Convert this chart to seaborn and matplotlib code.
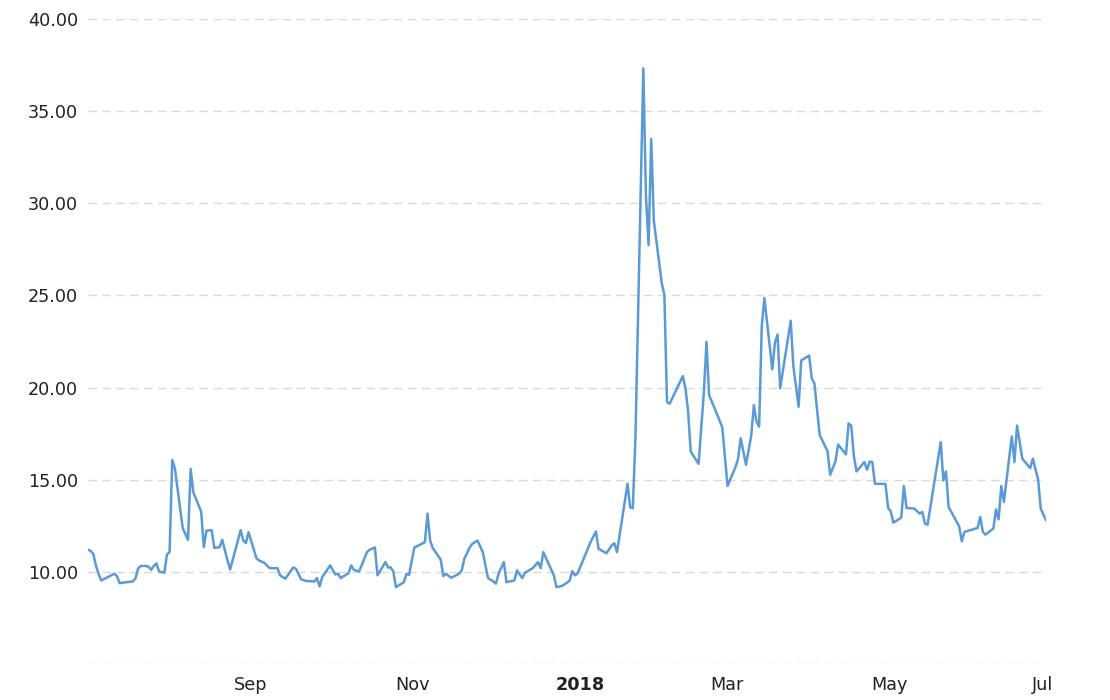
import matplotlib
matplotlib.use('Agg')
import matplotlib.pyplot as plt
import pandas as pd
import seaborn as sns

# VIX closing values (Jul 2017 - Jul 2018)
dates = [
    "2017-07-09", "2017-07-10", "2017-07-11", "2017-07-12", "2017-07-13", "2017-07-14",
    "2017-07-19", "2017-07-20", "2017-07-21", "2017-07-26", "2017-07-27", "2017-07-28",
    "2017-07-29", "2017-07-31",
    "2017-08-01", "2017-08-02", "2017-08-03", "2017-08-04", "2017-08-05", "2017-08-07",
    "2017-08-08", "2017-08-09", "2017-08-10", "2017-08-11", "2017-08-14", "2017-08-16",
    "2017-08-17", "2017-08-18", "2017-08-21", "2017-08-22", "2017-08-23", "2017-08-25",
    "2017-08-26", "2017-08-28", "2017-08-29", "2017-08-31",
    "2017-09-01", "2017-09-05", "2017-09-06", "2017-09-07", "2017-09-08", "2017-09-11",
    "2017-09-12", "2017-09-14", "2017-09-16", "2017-09-19", "2017-09-20", "2017-09-22",
    "2017-09-25", "2017-09-26", "2017-09-28", "2017-09-30",
    "2017-10-03", "2017-10-04", "2017-10-05", "2017-10-06", "2017-10-09", "2017-10-11",
    "2017-10-12", "2017-10-13", "2017-10-16", "2017-10-17", "2017-10-18", "2017-10-20",
    "2017-10-23", "2017-10-24", "2017-10-26", "2017-10-27", "2017-10-30", "2017-10-31",
    "2017-11-01", "2017-11-02", "2017-11-03", "2017-11-06", "2017-11-07", "2017-11-08",
    "2017-11-10", "2017-11-14", "2017-11-15", "2017-11-16", "2017-11-17", "2017-11-20",
    "2017-11-21", "2017-11-22", "2017-11-24", "2017-11-27", "2017-11-28", "2017-11-29",
    "2017-12-01", "2017-12-02", "2017-12-04", "2017-12-06", "2017-12-08", "2017-12-10",
    "2017-12-11", "2017-12-12", "2017-12-14", "2017-12-15", "2017-12-18", "2017-12-19",
    "2017-12-21", "2017-12-22", "2017-12-25", "2017-12-27", "2017-12-28", "2017-12-29",
    "2017-12-31",
    "2018-01-02", "2018-01-03", "2018-01-05", "2018-01-07", "2018-01-08", "2018-01-09",
    "2018-01-10", "2018-01-11", "2018-01-16", "2018-01-18", "2018-01-19", "2018-01-22",
    "2018-01-24", "2018-01-25", "2018-01-26", "2018-01-30", "2018-01-31",
    "2018-02-01", "2018-02-02", "2018-02-05", "2018-02-06", "2018-02-07", "2018-02-08",
    "2018-02-09", "2018-02-12", "2018-02-13", "2018-02-14", "2018-02-15", "2018-02-20",
    "2018-02-21", "2018-02-22", "2018-02-23", "2018-02-26", "2018-02-28",
    "2018-03-01", "2018-03-02", "2018-03-05", "2018-03-07", "2018-03-09", "2018-03-12",
    "2018-03-13", "2018-03-14", "2018-03-16", "2018-03-18", "2018-03-19", "2018-03-20",
    "2018-03-21", "2018-03-22", "2018-03-23", "2018-03-26", "2018-03-27", "2018-03-28",
    "2018-03-29",
    "2018-04-02", "2018-04-03", "2018-04-05", "2018-04-06", "2018-04-09", "2018-04-10",
    "2018-04-11", "2018-04-13", "2018-04-16", "2018-04-17", "2018-04-19", "2018-04-20",
    "2018-04-23", "2018-04-24", "2018-04-25", "2018-04-26", "2018-04-27", "2018-04-30",
    "2018-05-01", "2018-05-02", "2018-05-03", "2018-05-04", "2018-05-08", "2018-05-09",
    "2018-05-10", "2018-05-11", "2018-05-14", "2018-05-15", "2018-05-16", "2018-05-19",
    "2018-05-21", "2018-05-22", "2018-05-23", "2018-05-24", "2018-05-29", "2018-05-30",
    "2018-05-31",
    "2018-06-01", "2018-06-05", "2018-06-06", "2018-06-07", "2018-06-12", "2018-06-13",
    "2018-06-14", "2018-06-15", "2018-06-18", "2018-06-19", "2018-06-20", "2018-06-21",
    "2018-06-22", "2018-06-25", "2018-06-26", "2018-06-27", "2018-06-29",
    "2018-07-02", "2018-07-03", "2018-07-05", "2018-07-06", "2018-07-08",
]

vix = [
    11.20, 11.14, 10.98, 10.35, 9.90, 9.53, 9.90, 9.77, 9.39, 9.48, 9.63, 10.17, 10.32, 10.32,
    10.28, 10.11, 10.32, 10.46, 10.02, 9.95, 10.94, 11.07, 16.07, 15.62, 12.37, 11.74,
    15.58, 14.32, 13.27, 11.34, 12.24, 12.26, 11.30, 11.34, 11.74, 10.62,
    10.13, 12.26, 11.70, 11.56, 12.15, 10.74, 10.62, 10.49, 10.20, 10.20, 9.81, 9.63,
    10.24, 10.17, 9.59, 9.50,
    9.48, 9.66, 9.21, 9.72, 10.35, 9.86, 9.90, 9.66, 9.93, 10.35, 10.11, 10.02,
    11.07, 11.20, 11.32, 9.81, 10.53, 10.24,
    10.24, 10.02, 9.17, 9.44, 9.90, 9.84, 11.32, 11.61, 13.16, 11.70, 11.29, 10.67,
    9.77, 9.90, 9.68, 9.90, 10.08, 10.71,
    11.32, 11.52, 11.70, 11.07, 9.66, 9.48, 9.36, 9.90, 10.53, 9.44, 9.53, 10.08,
    9.66, 9.95, 10.20, 10.53, 10.20, 11.07, 10.44,
    9.81, 9.17, 9.23, 9.41, 9.53, 10.04, 9.81, 9.91, 11.63, 12.19, 11.25, 11.01,
    11.44, 11.55, 11.07, 14.78, 13.50,
    13.45, 17.25, 37.32, 30.36, 27.73, 33.50, 29.04, 25.67, 25.02, 19.21, 19.12, 20.62,
    19.96, 18.75, 16.53, 15.86, 19.73,
    22.48, 19.59, 18.56, 17.84, 14.66, 15.68, 16.13, 17.25, 15.81, 17.39, 19.05, 18.15,
    17.88, 23.33, 24.86, 20.99, 22.43, 22.88, 19.96,
    23.63, 21.17, 18.96, 21.47, 21.74, 20.49, 20.23, 17.43, 16.55, 15.27, 15.99, 16.91,
    16.37, 18.06, 17.93, 16.28, 15.45, 15.96,
    15.54, 15.99, 15.96, 14.78, 14.77, 13.47, 13.29, 12.67, 12.94, 14.66, 13.47, 13.43,
    13.16, 13.25, 12.62, 12.56, 17.04, 14.96, 15.45,
    13.52, 12.47, 11.66, 12.17, 12.38, 12.98, 12.17, 12.02, 12.35, 13.39, 12.85, 14.66,
    13.79, 17.35, 15.96, 17.94, 16.14,
    15.63, 16.14, 15.02, 13.43, 12.80,
]

tick_dates = ["2017-09-01", "2017-11-01", "2018-01-01", "2018-03-01", "2018-05-01", "2018-07-01"]
tick_labels = ["Sep", "Nov", "2018", "Mar", "May", "Jul"]
y_ticks = [5, 10, 15, 20, 25, 30, 35, 40]

df = pd.DataFrame({"date": pd.to_datetime(dates), "vix": vix})

sns.set_style("white")
plt.rcParams['font.family'] = ['DejaVu Sans']

fig = plt.figure(figsize=(11.1, 7), dpi=100)
ax = fig.add_axes([88 / 1110, 36 / 700, 958 / 1110, 645 / 700])

sns.lineplot(data=df, x="date", y="vix", ax=ax, color="#5b9bd5", linewidth=1.8)

ax.set_xlim(df["date"].min(), df["date"].max())
ax.set_ylim(5, 40)

# horizontal dashed grid only
ax.set_yticks(y_ticks)
ax.set_yticklabels(["" if v == 5 else f"{v:.2f}" for v in y_ticks])
ax.yaxis.grid(True, color="#d9d9d9", linestyle=(0, (6, 4)), linewidth=1)
ax.xaxis.grid(False)
ax.set_axisbelow(True)

# month labels start just right of the month boundary
ax.set_xticks(pd.to_datetime(tick_dates))
ax.set_xticklabels([])
for d, lab in zip(pd.to_datetime(tick_dates), tick_labels):
    ax.annotate(lab, xy=(d, 0), xycoords=("data", "axes fraction"),
                xytext=(3, -9), textcoords="offset points",
                ha="left", va="top", fontsize=12.7, color="#222222",
                fontweight="bold" if lab == "2018" else "normal",
                annotation_clip=False)

ax.tick_params(axis="both", length=0, labelsize=12.7, colors="#222222")
ax.tick_params(axis="y", pad=7)

for side in ["top", "right", "bottom", "left"]:
    ax.spines[side].set_visible(False)

ax.set_xlabel("")
ax.set_ylabel("")

fig.savefig("out.png", dpi=100)
